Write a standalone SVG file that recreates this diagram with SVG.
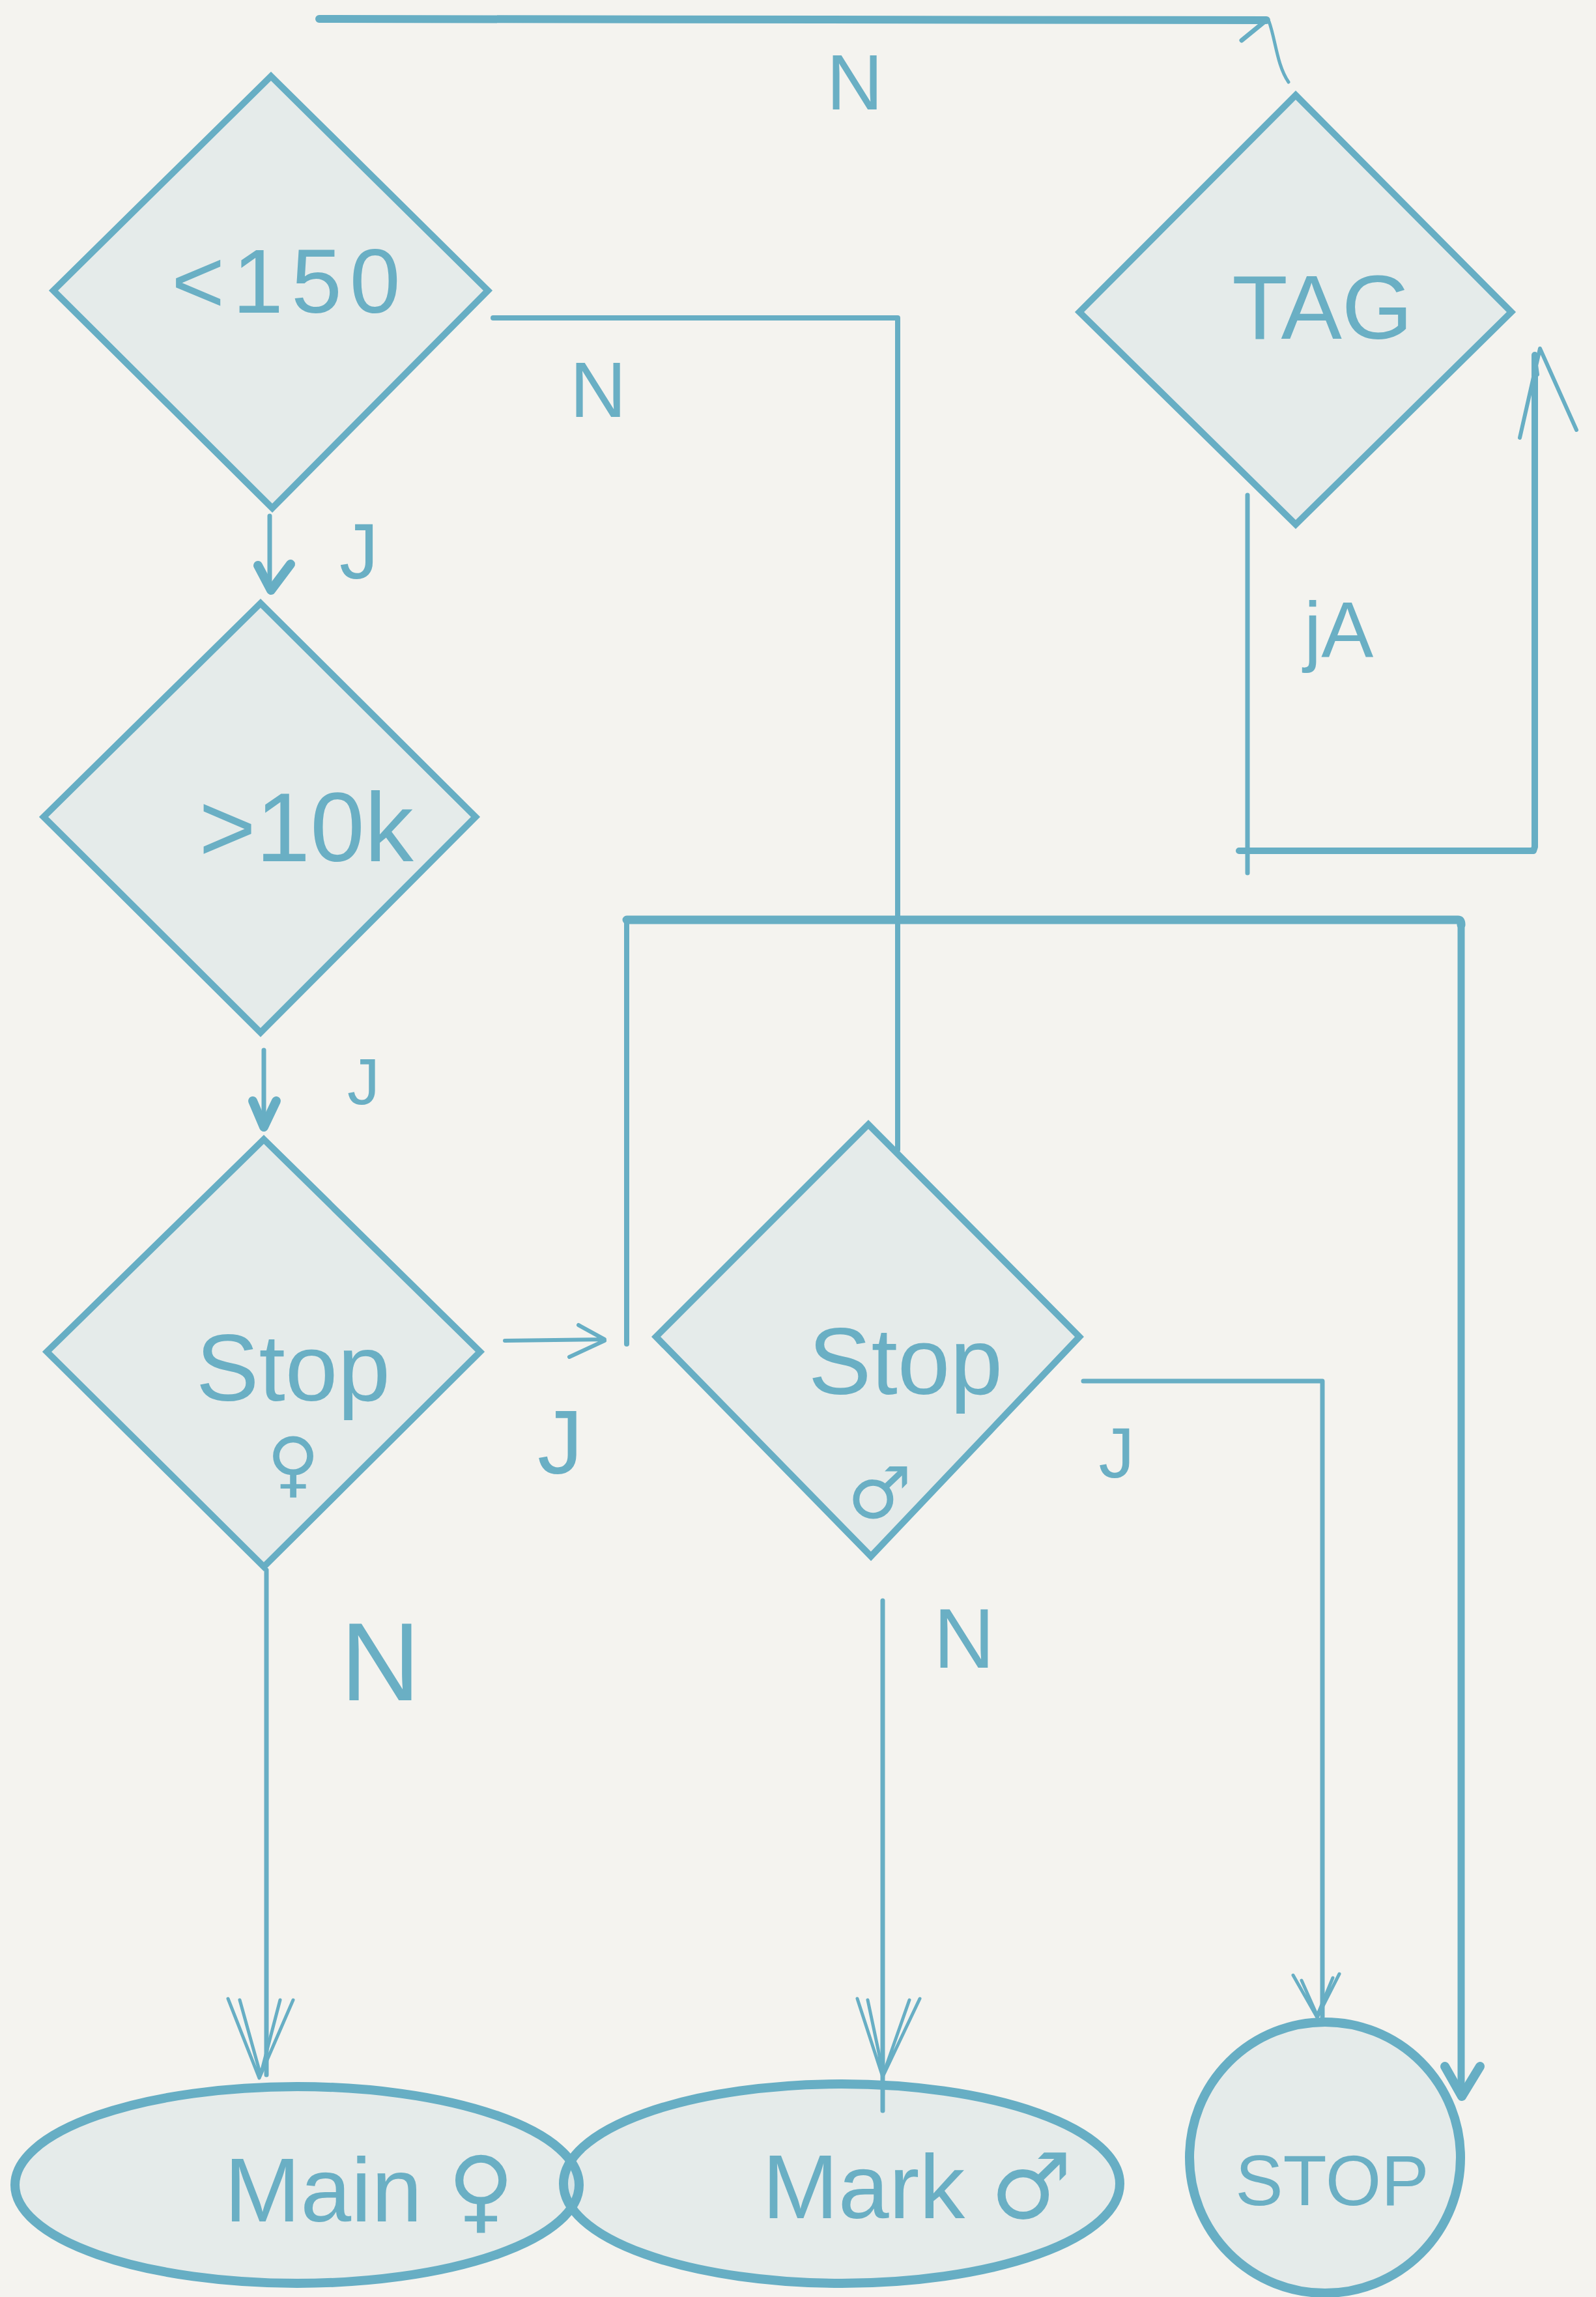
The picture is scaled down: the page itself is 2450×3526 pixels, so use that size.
<svg xmlns="http://www.w3.org/2000/svg" width="2450" height="3526" viewBox="0 0 2450 3526">
<style>
.bg{fill:#F4F3EF}
.node{fill:#69AFC5;fill-opacity:0.11;stroke:#67AEC4;stroke-width:10;stroke-linejoin:miter}
.oval{fill:#69AFC5;fill-opacity:0.11;stroke:#67AEC4;stroke-width:14}
.ln{fill:none;stroke:#67AEC4;stroke-linecap:round;stroke-linejoin:round}
.lbl{fill:#6AAFC4;font-family:"Liberation Sans","DejaVu Sans",sans-serif}
.sym{fill:#6AAFC4;font-family:"DejaVu Sans","Liberation Sans",sans-serif}
</style>
<rect class="bg" x="0" y="0" width="2450" height="3526"/>

<g id="connectors">
  <!-- top N line to TAG -->
  <path class="ln" stroke-width="12" d="M490,29 L1944,31"/>
  <path class="ln" stroke-width="7" d="M1944,31 L1906,62"/>
  <path class="ln" stroke-width="5" d="M1948,33 C1958,60 1960,100 1978,126"/>
  <!-- <150 N to Stop δ -->
  <path class="ln" stroke-width="8" d="M757,488 L1378,488 L1378,1765"/>
  <!-- <150 J to >10k -->
  <path class="ln" stroke-width="7" d="M414,792 L414,902"/>
  <path class="ln" stroke-width="14" d="M396,868 L416,906 L446,866"/>
  <!-- >10k J to Stop -->
  <path class="ln" stroke-width="7" d="M405,1612 L405,1725"/>
  <path class="ln" stroke-width="14" d="M388,1690 L405,1730 L424,1690"/>
  <!-- Stop Φ J right -->
  <path class="ln" stroke-width="6" d="M775,2058 L928,2056 L888,2034 M928,2058 L874,2083"/>
  <!-- big loop to STOP circle -->
  <path class="ln" stroke-width="8" d="M962,2063 L962,1414"/>
  <path class="ln" stroke-width="13" d="M962,1412 L2238,1412 C2243,1412 2243,1418 2243,1420"/>
  <path class="ln" stroke-width="11" d="M2243,1418 L2243,3215"/>
  <path class="ln" stroke-width="14" d="M2218,3172 L2244,3218 L2272,3172"/>
  <!-- Stop δ J right to STOP -->
  <path class="ln" stroke-width="7" d="M1663,2120 L2030,2120 L2030,3096"/>
  <path class="ln" stroke-width="5" d="M1985,3032 L2022,3097 L2056,3030 M1998,3040 L2022,3094 L2046,3036"/>
  <!-- Stop Φ N down to ellipse 1 -->
  <path class="ln" stroke-width="7" d="M409,2410 L409,3185"/>
  <path class="ln" stroke-width="5" d="M350,3068 L398,3190 L450,3070 M368,3070 L400,3185 L430,3070"/>
  <!-- Stop δ N down to ellipse 2 -->
  <path class="ln" stroke-width="7" d="M1355,2457 L1355,3240"/>
  <path class="ln" stroke-width="5" d="M1316,3068 L1355,3188 L1412,3068 M1332,3070 L1356,3184 L1396,3070"/>
  <!-- TAG JA loop -->
  <path class="ln" stroke-width="7" d="M1915,760 L1915,1340"/>
  <path class="ln" stroke-width="10" d="M1902,1306 L2354,1306 L2356,1300 L2356,545"/>
  <path class="ln" stroke-width="6" d="M2333,672 L2364,535 L2420,660 M2358,560 L2360,575"/>
</g>

<g id="node-lt150">
  <polygon class="node" points="416,117 749,446 418,780 82,446"/>
  <text class="lbl" x="445" y="480" font-size="140" text-anchor="middle" letter-spacing="12">&lt;150</text>
</g>

<g id="node-tag">
  <polygon class="node" points="1989,146 2320,479 1989,805 1657,479"/>
  <text class="lbl" x="2030" y="520" font-size="140" text-anchor="middle">TAG</text>
</g>

<g id="node-gt10k">
  <polygon class="node" points="400,926 730,1254 400,1585 67,1254"/>
  <text class="lbl" x="470" y="1322" font-size="150" text-anchor="middle">&gt;10k</text>
</g>

<g id="node-stop1">
  <polygon class="node" points="405,1749 737,2075 405,2405 72,2075"/>
  <text class="lbl" x="450" y="2150" font-size="145" text-anchor="middle">Stop</text>
  <text class="sym" x="450" y="2285" font-size="110" text-anchor="middle">♀</text>
</g>

<g id="node-stop2">
  <polygon class="node" points="1333,1726 1657,2052 1337,2389 1007,2052"/>
  <text class="lbl" x="1390" y="2140" font-size="145" text-anchor="middle">Stop</text>
  <text class="sym" x="1350" y="2330" font-size="110" text-anchor="middle">♂</text>
</g>

<g id="node-main">
  <ellipse class="oval" cx="456" cy="3354" rx="433" ry="151"/>
  <text class="lbl" x="567" y="3410" font-size="140" text-anchor="middle">Main <tspan class="sym">♀</tspan></text>
</g>

<g id="node-mark">
  <ellipse class="oval" cx="1292" cy="3352" rx="427" ry="153"/>
  <text class="lbl" x="1408" y="3405" font-size="140" text-anchor="middle">Mark <tspan class="sym">♂</tspan></text>
</g>

<g id="node-stop-end">
  <circle class="oval" cx="2034" cy="3312" r="208" stroke-width="12"/>
  <text class="lbl" x="2045" y="3385" font-size="110" text-anchor="middle">STOP</text>
</g>

<g id="labels">
  <text class="lbl" x="1312" y="168" font-size="120" text-anchor="middle">N</text>
  <text class="lbl" x="918" y="640" font-size="120" text-anchor="middle">N</text>
  <text class="lbl" x="551" y="888" font-size="120" text-anchor="middle">J</text>
  <text class="lbl" x="558" y="1695" font-size="100" text-anchor="middle">J</text>
  <text class="lbl" x="860" y="2262" font-size="140" text-anchor="middle">J</text>
  <text class="lbl" x="1714" y="2268" font-size="110" text-anchor="middle">J</text>
  <text class="lbl" x="584" y="2610" font-size="170" text-anchor="middle">N</text>
  <text class="lbl" x="1480" y="2560" font-size="130" text-anchor="middle">N</text>
  <text class="lbl" x="2055" y="1008" font-size="120" text-anchor="middle">jA</text>
</g>
</svg>
